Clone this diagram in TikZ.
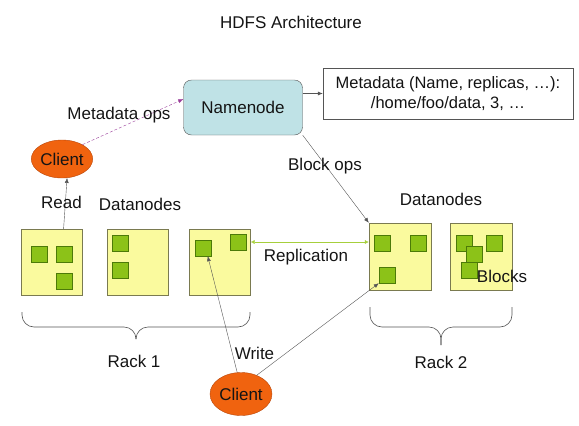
\documentclass[tikz,border=0pt]{standalone}
\usepackage{fontspec}
\setmainfont{Liberation Sans}
\usetikzlibrary{arrows.meta,shapes.geometric}

\definecolor{boxyellow}{HTML}{FAFA9E}
\definecolor{boxline}{HTML}{7A7A50}
\definecolor{blockgreen}{HTML}{8CC218}
\definecolor{blockline}{HTML}{4C7A08}
\definecolor{nncyan}{HTML}{BFE2E6}
\definecolor{clientorange}{HTML}{F0630F}
\definecolor{clientline}{HTML}{B84508}
\definecolor{opspurple}{HTML}{9A3D9A}
\definecolor{replgreen}{HTML}{A6CF3C}
\definecolor{edgegray}{HTML}{555555}

\tikzset{
  every node/.style={font=\fontsize{17}{20}\selectfont, text=black!92},
  datanode/.style={draw=boxline, fill=boxyellow, minimum width=61pt, minimum height=66pt, inner sep=0pt},
  block/.style={draw=blockline, fill=blockgreen, minimum size=16pt, inner sep=0pt},
  client/.style={ellipse, draw=clientline, fill=clientorange, inner sep=0pt},
  link/.style={draw=edgegray, -{Latex[length=5pt,width=4pt]}},
  rackbrace/.style={draw=edgegray, semithick, rounded corners=12pt},
}

\begin{document}
\begin{tikzpicture}[x=1pt, y=-1pt]
\useasboundingbox (0,0) rectangle (579,426);

\node (title) at (291,22) {HDFS Architecture};

% namenode and its metadata
\node[draw=edgegray, fill=nncyan, rounded corners=8pt, minimum width=119pt, minimum height=55pt] (nn) at (243,107.5) {Namenode};
\node[draw=edgegray, fill=white, minimum width=250pt, minimum height=51pt, align=center, font=\fontsize{16.5}{20}\selectfont] (meta) at (448,93.5)
  {Metadata (Name, replicas, \dots):\\/home/foo/data, 3, \dots};

% clients
\node[client, minimum width=61pt, minimum height=38pt] (ctop) at (62,159) {Client};
\node[client, minimum width=62pt, minimum height=43pt] (cbot) at (241,394) {Client};

% rack 1
\node[datanode] (dn1) at (51.5,262) {};
\node[datanode] (dn2) at (138,262) {};
\node[datanode] (dn3) at (220,262) {};
\node[block] (b11) at (39,254) {};
\node[block] (b12) at (64,254) {};
\node[block] (b13) at (64,281.5) {};
\node[block] (b21) at (120,243) {};
\node[block] (b22) at (120,270) {};
\node[block] (b31) at (203,248) {};
\node[block] (b32) at (238,242) {};

% rack 2
\node[datanode, minimum width=62pt, minimum height=67pt] (dn4) at (400,256.5) {};
\node[datanode, minimum width=62pt, minimum height=67pt] (dn5) at (481.5,256.5) {};
\node[block] (b41) at (382,243) {};
\node[block] (b42) at (418,243) {};
\node[block] (b43) at (387,275) {};
\node[block] (b51) at (464,243) {};
\node[block] (b52) at (494.5,243) {};
\node[block] (b53) at (474.5,254) {};
\node[block] (b54) at (469,270) {};

% racks (braces)
\draw[rackbrace] (22,312) -- (22,327) -- (136,327) -- (136,338);
\draw[rackbrace] (250,312) -- (250,327) -- (136,327) -- (136,338);
\draw[rackbrace] (370,307) -- (370,327) -- (441,327) -- (441,345);
\draw[rackbrace] (512,307) -- (512,327) -- (441,327) -- (441,345);

% connectors
\draw[link, draw=opspurple, densely dashed] (ctop.35) -- (nn.172);
\draw[link] (nn.east |- meta.west) -- (meta.west);
\draw[link] (nn.south east) -- (dn4.north west);
\draw[link] (dn1.70) -- (ctop.-75);
\draw[link] (cbot.100) -- (b31.-60);
\draw[link] (cbot.50) -- (b43.south west);
\draw[draw=replgreen, {Latex[length=4pt,width=4pt]}-{Latex[length=4pt,width=4pt]}] (dn3.east |- b32) -- (dn4.west |- b32);

% labels
\node (lops) at (119,115) {Metadata ops};
\node (lread) at (61.5,202) {Read};
\node (ldn1) at (140,204) {Datanodes};
\node (lblk) at (325,166) {Block ops};
\node (ldn2) at (441,199) {Datanodes};
\node (lrepl) at (306,257) {Replication};
\node (lwrite) at (254.5,353) {Write};
\node (lrack1) at (134,361) {Rack 1};
\node (lrack2) at (441,362) {Rack 2};
\node (lblocks) at (502,276) {Blocks};
\end{tikzpicture}
\end{document}
